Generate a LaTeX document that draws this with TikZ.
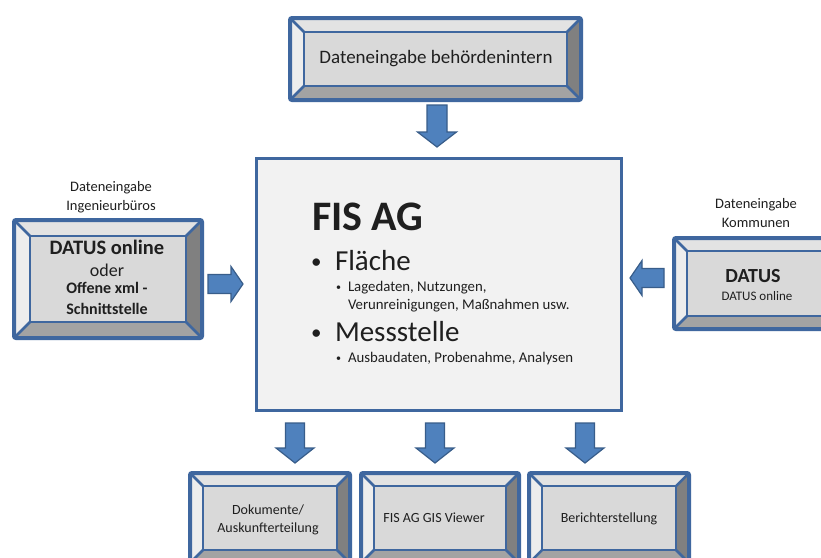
\documentclass[tikz,border=0pt]{standalone}
\usepackage{fontspec}
\setmainfont{Carlito}
\usetikzlibrary{calc}
\definecolor{bblue}{HTML}{3F679F}
\definecolor{afill}{HTML}{4F81BD}
\definecolor{aline}{HTML}{385D8A}
\definecolor{bvT}{HTML}{E3E3E3}
\definecolor{bvL}{HTML}{EDEDED}
\definecolor{bvR}{HTML}{808080}
\definecolor{bvB}{HTML}{A3A3A3}
\definecolor{bvF}{HTML}{D9D9D9}
\definecolor{cfill}{HTML}{F2F2F2}
\tikzset{
 bevouter/.style={inner sep=0, outer sep=0, draw=none},
 bevline/.style={draw=bblue, line width=2.5pt},
 bevborder/.style={draw=bblue, line width=4pt, rounded corners=2pt},
 blockarrow/.style={draw=aline, fill=afill, line width=1.2pt, line join=miter},
 txt/.style={inner sep=0, outer sep=0, text=black!88},
}
\newcommand\bevbox[6]{%
 \node[bevouter, minimum width=#4pt, minimum height=#5pt] (#1) at (#2,#3) {};
 \coordinate (#1-a) at ([shift={(#6pt,-#6pt)}]#1.north west);
 \coordinate (#1-b) at ([shift={(-#6pt,-#6pt)}]#1.north east);
 \coordinate (#1-c) at ([shift={(-#6pt,#6pt)}]#1.south east);
 \coordinate (#1-d) at ([shift={(#6pt,#6pt)}]#1.south west);
 \fill[bvT] (#1.north west) -- (#1.north east) -- (#1-b) -- (#1-a) -- cycle;
 \fill[bvR] (#1.north east) -- (#1.south east) -- (#1-c) -- (#1-b) -- cycle;
 \fill[bvB] (#1.south east) -- (#1.south west) -- (#1-d) -- (#1-c) -- cycle;
 \fill[bvL] (#1.south west) -- (#1.north west) -- (#1-a) -- (#1-d) -- cycle;
 \fill[bvF] (#1-a) rectangle (#1-c);
 \draw[bevline] (#1.north west) -- (#1-a) (#1.north east) -- (#1-b) (#1.south east) -- (#1-c) (#1.south west) -- (#1-d);
 \draw[bevline] (#1-a) rectangle (#1-c);
 \draw[bevborder] (#1.north west) rectangle (#1.south east);
}
% block arrow: name, cx, cy, rotate, half length, half head width, half shaft width, head length
\newcommand\barrow[8]{%
 \coordinate (#1) at (#2,#3);
 \begin{scope}[shift={(#1)}, rotate=#4]
  \draw[blockarrow] (-#5,-#7) -- ({#5-#8},-#7) -- ({#5-#8},-#6) -- (#5,0) -- ({#5-#8},#6) -- ({#5-#8},#7) -- (-#5,#7) -- cycle;
 \end{scope}
}
\begin{document}
\begin{tikzpicture}[x=1pt,y=-1pt]
\clip (0,0) rectangle (821,557);
\fill[white] (0,0) rectangle (821,557);

% boxes
\bevbox{top}{435.5}{59}{291}{82}{14}
\bevbox{left}{108}{279}{188}{118}{16}
\bevbox{right}{757}{283.5}{166}{91}{13}
\bevbox{b1}{270}{518}{160}{90}{13}
\bevbox{b2}{440}{518}{158}{90}{13}
\bevbox{b3}{609}{518}{160}{90}{13}

% central box
\node[draw=bblue, line width=3pt, fill=cfill, minimum width=365pt, minimum height=252pt, inner sep=0] (fis) at (439,284.5) {};

% block arrows
\barrow{atop}{437}{126}{-90}{21}{19.5}{10}{15}
\barrow{aleft}{225.5}{284}{0}{17.5}{17.5}{9.5}{12}
\barrow{aright}{647}{278}{180}{17}{17.5}{9.5}{12}
\barrow{ab1}{295}{443}{-90}{20}{19}{9.5}{15}
\barrow{ab2}{435}{443}{-90}{20}{19}{9.5}{15}
\barrow{ab3}{585}{443}{-90}{20}{19}{9.5}{15}

% texts
\node[txt, font=\fontsize{19}{23}\selectfont] (ttop) at (436,59) {Dateneingabe behördenintern};

\node[txt, font=\fontsize{14.5}{18.5}\selectfont, align=center] (lleft) at (111,197) {Dateneingabe\\Ingenieurbüros};
\node[txt, anchor=base, font=\bfseries\fontsize{20.5}{24}\selectfont] (l1) at (107,254) {DATUS online};
\node[txt, anchor=base, font=\fontsize{18}{22}\selectfont] (l2) at (107,276) {oder};
\node[txt, anchor=base, font=\bfseries\fontsize{16}{20}\selectfont] (l3) at (107,293) {Offene xml -};
\node[txt, anchor=base, font=\bfseries\fontsize{16}{20}\selectfont] (l4) at (107,314) {Schnittstelle};

\node[txt, font=\fontsize{14.5}{18.5}\selectfont, align=center] (lright) at (756,213) {Dateneingabe\\Kommunen};
\node[txt, anchor=base, font=\bfseries\fontsize{20}{24}\selectfont] (r1) at (753,282) {DATUS};
\node[txt, anchor=base, font=\fontsize{13}{16}\selectfont] (r2) at (757,300) {DATUS online};

\node[txt, anchor=base west, font=\bfseries\fontsize{42}{48}\selectfont] (c0) at (312,230) {FIS AG};
\node[txt, anchor=base west, font=\fontsize{21}{25}\selectfont] (c1b) at (311,268) {•};
\node[txt, anchor=base west, font=\fontsize{29}{34}\selectfont] (c1) at (335,270) {Fläche};
\node[txt, anchor=base west, font=\fontsize{10}{12}\selectfont] (c2b) at (336,290) {•};
\node[txt, anchor=base west, font=\fontsize{14.8}{18}\selectfont] (c2) at (348,291) {Lagedaten, Nutzungen,};
\node[txt, anchor=base west, font=\fontsize{14.8}{18}\selectfont] (c3) at (348,309) {Verunreinigungen, Maßnahmen usw.};
\node[txt, anchor=base west, font=\fontsize{21}{25}\selectfont] (c4b) at (311,339) {•};
\node[txt, anchor=base west, font=\fontsize{29}{34}\selectfont] (c4) at (335,341) {Messstelle};
\node[txt, anchor=base west, font=\fontsize{10}{12}\selectfont] (c5b) at (336,361) {•};
\node[txt, anchor=base west, font=\fontsize{14.8}{18}\selectfont] (c5) at (348,362) {Ausbaudaten, Probenahme, Analysen};

\node[txt, anchor=base, font=\fontsize{14}{18}\selectfont] (t1a) at (268,514) {Dokumente/};
\node[txt, anchor=base, font=\fontsize{14}{18}\selectfont] (t1b) at (268,532) {Auskunfterteilung};
\node[txt, anchor=base, font=\fontsize{14}{18}\selectfont] (t2) at (434,522) {FIS AG GIS Viewer};
\node[txt, anchor=base, font=\fontsize{14}{18}\selectfont] (t3) at (609,522) {Berichterstellung};
\end{tikzpicture}
\end{document}
